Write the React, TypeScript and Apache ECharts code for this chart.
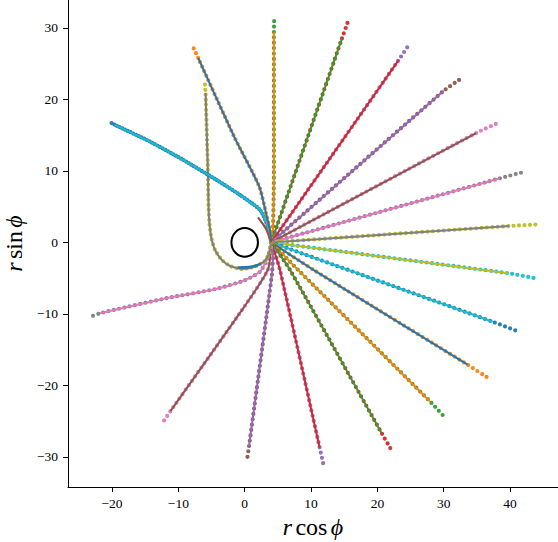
import React, { useEffect, useRef } from 'react';
import * as echarts from 'echarts';

// matplotlib tab10 colour cycle
const TAB10 = ['#1f77b4', '#ff7f0e', '#2ca02c', '#d62728', '#9467bd', '#8c564b', '#e377c2', '#7f7f7f', '#bcbd22', '#17becf'];

const X_TICKS = [-20, -10, 0, 10, 20, 30, 40];
const Y_TICKS = [-30, -20, -10, 0, 10, 20, 30];

// horizon circle: centre x, centre y, radius
const HORIZON = [[0, 0, 2]];

// Each ray: points along the trajectory.
// The last point is where the dots end; the one before it is where the solid line ends.
const ray01 = [[4, 0], [4.25, 1.5], [4.4, 10], [4.4, 29.4], [4.45, 31.2]];
const ray02 = [[4, 0], [14.65, 28.5], [15.5, 30.7]];
const ray03 = [[4, 0], [23.2, 25.5], [24.8, 27.7]];
const ray04 = [[4, 0], [30.0, 21.2], [32.6, 22.9]];
const ray05 = [[4, 0], [34.9, 15.3], [38.4, 16.8]];
const ray06 = [[4, 0], [38.4, 8.95], [42.3, 9.9]];
const ray07 = [[4, 0], [39.9, 2.3], [43.9, 2.5]];
const ray08 = [[4, 0], [39.7, -4.3], [43.7, -5.0]];
const ray09 = [[4, 0], [37.4, -11.1], [41.1, -12.4]];
const ray10 = [[4, 0], [10.3, -3.8], [33.6, -17.1], [36.6, -18.9]];
const ray11 = [[4, 0], [8.0, -3.8], [27.9, -22.2], [30.3, -24.6]];
const ray12 = [[4, 0], [6.8, -3.8], [20.6, -26.6], [22.1, -29.0]];
const ray13 = [[4, 0], [5.3, -3.8], [11.3, -28.7], [11.9, -31.2]];
const ray14 = [[4, 0], [4.25, -2], [4.1, -4.5], [0.65, -28.5], [0.35, -30.4]];
const ray15 = [[4, 0], [3.5, -3.8], [0, -8.9], [-11.2, -23.6], [-12.3, -25.1]];
const ray16 = [[4, 0], [3.4, -2.3], [2.3, -4.1], [0, -5.3], [-4.3, -6.5], [-11.8, -7.8], [-21.8, -9.9], [-23.5, -10.5]];
const ray17 = [[4, 0], [3.7, -1.5], [3.0, -2.6], [1.5, -3.4], [-0.5, -3.7], [-2.2, -3.3], [-3.5, -2.4], [-4.5, -1.0], [-5.0, 0.5], [-5.3, 2.5], [-5.45, 5], [-5.55, 10], [-5.9, 20.9], [-6.0, 22.1]];
const ray19 = [[4, 0], [3.5, 2.2], [2.3, 4.55], [-0.71, 6.64], [-4.25, 8.74], [-9.27, 11.54], [-14.28, 14.1], [-19.6, 16.45], [-20.2, 16.76]];
const ray20 = [[4, 0], [3.8, 1.75], [3.3, 3.7], [2.2, 7.8], [-1.6, 14.8], [-7.0, 25.76], [-7.87, 27.5]];

// short line pieces close to the hole (solid only)
const stubBrown = [[3.9, 0.2], [3.2, 1.9], [2.0, 3.5]];
const stubBlue = [[2.4, -3.0], [1.0, -3.4], [-1.0, -3.5]];

const RAYS = [ray01, ray02, ray03, ray04, ray05, ray06, ray07, ray08, ray09, ray10, ray11, ray12, ray13, ray14, ray15, ray16, ray17, ray19, ray20];
// index into TAB10 of each ray's solid line; its dots use the next colour
const RAY_LINE_COLOR = [1, 2, 3, 4, 5, 6, 7, 8, 9, 0, 1, 2, 3, 4, 5, 6, 7, 9, 0];
const RAY_DOT_GAP = [5.4, 5.4, 5.4, 5.4, 5.4, 5.4, 5.4, 5.4, 5.4, 5.4, 5.4, 5.4, 5.4, 5.4, 5.4, 5.4, 5.0, 3.0, 5.0];

const SERIF = '"Liberation Serif", "DejaVu Serif", serif';

function fmt(v: number) {
  return v < 0 ? '\u2212' + Math.abs(v) : String(v);
}

export default function App() {
  const ref = useRef<HTMLDivElement>(null);
  useEffect(() => {
    if (!ref.current) return;
    const chart = echarts.init(ref.current, undefined, { renderer: 'svg' });
    const series: any[] = [];
    RAYS.forEach((path, i) => {
      const c = RAY_LINE_COLOR[i];
      series.push({
        type: 'line',
        data: path,
        symbol: 'none',
        smooth: 0.2,
        silent: true,
        lineStyle: { color: TAB10[(c + 1) % 10], width: 4.2, type: [0, RAY_DOT_GAP[i]], cap: 'round', join: 'round', opacity: 0.95 },
      });
      series.push({
        type: 'line',
        data: path.slice(0, -1),
        symbol: 'none',
        smooth: 0.2,
        silent: true,
        lineStyle: { color: TAB10[c], width: 2 },
      });
    });
    series.push({ type: 'line', data: stubBrown, symbol: 'none', smooth: 0.3, silent: true, lineStyle: { color: TAB10[5], width: 2.2 } });
    series.push({ type: 'line', data: stubBlue, symbol: 'none', smooth: 0.3, silent: true, lineStyle: { color: TAB10[0], width: 2.5 } });
    series.push({
      type: 'custom',
      data: HORIZON,
      silent: true,
      z: 5,
      renderItem: (params: any, api: any) => {
        const c = api.coord([api.value(0), api.value(1)]);
        const s = api.size([api.value(2), api.value(2)]);
        return {
          type: 'ellipse',
          shape: { cx: c[0], cy: c[1], rx: s[0], ry: s[1] },
          style: { fill: 'none', stroke: '#000', lineWidth: 2 },
        };
      },
    });

    const nameRich = {
      i: { fontFamily: SERIF, fontStyle: 'italic', fontSize: 24, color: '#000' },
      n: { fontFamily: SERIF, fontSize: 24, color: '#000' },
    };

    chart.setOption({
      animation: false,
      backgroundColor: '#fff',
      grid: { left: 68, top: 0, right: 0, bottom: 55, containLabel: false, outerBoundsMode: 'none' },
      xAxis: {
        type: 'value',
        min: -26.64,
        max: 47.23,
        axisLine: { show: true, onZero: false, lineStyle: { color: '#000', width: 1 } },
        axisTick: { show: true, customValues: X_TICKS, length: 5, lineStyle: { color: '#000', width: 1 } },
        axisLabel: { customValues: X_TICKS, formatter: (v: number) => fmt(v), fontFamily: SERIF, fontSize: 13.5, color: '#000', margin: 9 },
        splitLine: { show: false },
        name: '{i|r} {n|cos} {i|\u03D5}',
        nameLocation: 'middle',
        nameGap: 25,
        nameTextStyle: { rich: nameRich },
      },
      yAxis: {
        type: 'value',
        min: -34.2,
        max: 33.9,
        axisLine: { show: true, onZero: false, lineStyle: { color: '#000', width: 1 } },
        axisTick: { show: true, customValues: Y_TICKS, length: 5, lineStyle: { color: '#000', width: 1 } },
        axisLabel: { customValues: Y_TICKS, formatter: (v: number) => fmt(v), fontFamily: SERIF, fontSize: 13.5, color: '#000', margin: 10 },
        splitLine: { show: false },
        name: '{i|r} {n|sin} {i|\u03D5}',
        nameLocation: 'middle',
        nameGap: 42,
        nameRotate: 90,
        nameTextStyle: { rich: nameRich },
      },
      series,
    });
    return () => chart.dispose();
  }, []);
  return <div ref={ref} style={{ position: 'absolute', left: 0, top: 0, width: 558, height: 542 }} />;
}
